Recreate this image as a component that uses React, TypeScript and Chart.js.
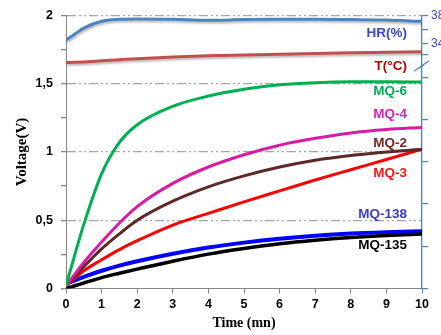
import React, { useEffect, useRef } from "react";
import { Chart, registerables } from "chart.js";

Chart.register(...registerables);

// time (mn)
const time = [0, 0.25, 0.5, 1, 1.5, 2, 3, 4, 5, 6, 7, 8, 9, 10];

// series values (V, left axis units)
const hr = [1.82, 1.865, 1.908, 1.958, 1.972, 1.975, 1.972, 1.965, 1.97, 1.972, 1.972, 1.97, 1.967, 1.957];
const temp = [1.655, 1.657, 1.66, 1.668, 1.676, 1.684, 1.696, 1.705, 1.711, 1.717, 1.722, 1.727, 1.731, 1.735];
const mq6 = [0.02, 0.25, 0.47, 0.84, 1.07, 1.2, 1.335, 1.41, 1.46, 1.492, 1.508, 1.514, 1.514, 1.512];
const mq4 = [0.02, 0.105, 0.19, 0.34, 0.48, 0.6, 0.77, 0.89, 0.98, 1.05, 1.1, 1.14, 1.165, 1.18];
const mq2 = [0.02, 0.09, 0.16, 0.29, 0.4, 0.5, 0.64, 0.745, 0.825, 0.89, 0.94, 0.975, 1.0, 1.02];
const mq3 = [0.02, 0.075, 0.13, 0.21, 0.285, 0.35, 0.465, 0.55, 0.635, 0.715, 0.795, 0.87, 0.945, 1.02];
const mq138 = [0.035, 0.06, 0.085, 0.13, 0.168, 0.2, 0.255, 0.3, 0.336, 0.365, 0.387, 0.403, 0.413, 0.42];
const mq135 = [0.0, 0.02, 0.04, 0.08, 0.112, 0.142, 0.2, 0.252, 0.293, 0.328, 0.354, 0.374, 0.389, 0.4];

// right (broken) axis ticks, expressed in left-axis units, and their labels
const rightTickValues = [0, 0.31, 0.62, 0.93, 1.24, 1.545, 1.713, 1.793, 1.895, 2.0];
const rightTickLabels = ["", "", "", "", "", "", "", "34", "", "38"];

// in-plot series names
const seriesNames = ["HR(%)", "T(°C)", "MQ-6", "MQ-4", "MQ-2", "MQ-3", "MQ-138", "MQ-135"];
const seriesNameColors = ["#3b47c4", "#c00000", "#00b050", "#e01fb2", "#7a1f1f", "#ff1010", "#3a3ad0", "#000000"];
const seriesNameY = [1.868, 1.625, 1.444, 1.278, 1.067, 0.842, 0.545, 0.318];

const toPts = (arr: number[]) => time.map((t, i) => ({ x: t, y: arr[i] }));

const SANS = "'Liberation Sans'";

export default function App() {
  const ref = useRef<HTMLCanvasElement | null>(null);

  useEffect(() => {
    if (!ref.current) return;

    const shadowPlugin = {
      id: "shadow",
      beforeDatasetDraw(chart: any, args: any) {
        if (args.index <= 1) {
          const ctx = chart.ctx;
          ctx.save();
          ctx.shadowColor = "rgba(0,0,0,0.25)";
          ctx.shadowBlur = 2;
          ctx.shadowOffsetY = 2;
          ctx.shadowOffsetX = 1;
        }
      },
      afterDatasetDraw(chart: any, args: any) {
        if (args.index <= 1) chart.ctx.restore();
      },
    };

    const labelPlugin = {
      id: "seriesLabels",
      afterDraw(chart: any) {
        const ctx = chart.ctx;
        const y = chart.scales.y;
        const area = chart.chartArea;
        ctx.save();
        ctx.font = "bold 13.5px " + SANS;
        ctx.textAlign = "right";
        ctx.textBaseline = "middle";
        seriesNames.forEach((n, i) => {
          ctx.fillStyle = seriesNameColors[i];
          ctx.fillText(n, area.right - 15, y.getPixelForValue(seriesNameY[i]));
        });
        // axis break marks on the right axis
        const y2 = chart.scales.y2;
        const by = y2.getPixelForValue(1.63);
        const bx = area.right;
        ctx.strokeStyle = "#4f81bd";
        ctx.lineWidth = 1.3;
        ctx.beginPath();
        ctx.moveTo(bx - 8, by + 5);
        ctx.lineTo(bx + 2, by - 1);
        ctx.moveTo(bx - 2, by + 1);
        ctx.lineTo(bx + 7, by - 5);
        ctx.stroke();
        ctx.restore();
      },
    };

    const mk = (label: string, arr: number[], color: string, width: number) => ({
      label,
      data: toPts(arr),
      borderColor: color,
      backgroundColor: color,
      borderWidth: width,
      pointRadius: 0,
      cubicInterpolationMode: "monotone" as const,
      fill: false,
      yAxisID: "y",
    });

    const chart = new Chart(ref.current, {
      type: "line",
      data: {
        datasets: [
          mk("HR(%)", hr, "#4f81bd", 3),
          mk("T(°C)", temp, "#c0504d", 3),
          mk("MQ-6", mq6, "#00b050", 3),
          mk("MQ-4", mq4, "#d81ca6", 3),
          mk("MQ-2", mq2, "#5e2828", 3),
          mk("MQ-3", mq3, "#ff0000", 3),
          mk("MQ-135", mq135, "#000000", 3.5),
          mk("MQ-138", mq138, "#0000ff", 4),
        ],
      },
      options: {
        animation: false,
        responsive: false,
        layout: { padding: { top: 13, left: 0, right: 0, bottom: 0 } },
        plugins: { legend: { display: false }, tooltip: { enabled: false } },
        scales: {
          x: {
            type: "linear",
            min: 0,
            max: 10,
            ticks: {
              stepSize: 1,
              color: "#000",
              font: { family: SANS, weight: "bold", size: 12.5 },
              padding: 4,
              maxRotation: 0,
            },
            grid: { drawOnChartArea: false, drawTicks: true, tickLength: 5, color: "#868686" },
            border: { color: "#868686", width: 1 },
            title: {
              display: true,
              text: "Time (mn)",
              color: "#000",
              font: { family: "Liberation Serif", weight: "bold", size: 14 },
              padding: { top: 0, bottom: 3 },
            },
            afterFit: (s: any) => {
              s.height = 46.5;
            },
          },
          y: {
            type: "linear",
            position: "left",
            min: 0,
            max: 2,
            ticks: {
              stepSize: 0.25,
              autoSkip: false,
              color: "#000",
              font: { family: SANS, weight: "bold", size: 12.5 },
              padding: 8,
              callback: (v: any) => {
                const n = Number(v);
                if (Math.abs(n * 2 - Math.round(n * 2)) > 1e-9) return "";
                return String(n).replace(".", ",");
              },
            },
            grid: {
              color: (c: any) => {
                const v = c.tick ? c.tick.value : 0;
                const major = Math.abs(v * 2 - Math.round(v * 2)) < 1e-9;
                return major && v > 0 ? "#a6a6a6" : "rgba(0,0,0,0)";
              },
              lineWidth: 1.3,
              tickColor: "#868686",
              tickLength: 5,
            },
            border: { color: "#868686", width: 1, dash: [9, 3, 2, 3, 2, 3] },
            title: {
              display: true,
              text: "Voltage(V)",
              color: "#000",
              font: { family: "Liberation Serif", weight: "bold", size: 15 },
              padding: { top: 13, bottom: 0 },
            },
            afterFit: (s: any) => {
              s.width = 66;
            },
          },
          y2: {
            type: "linear",
            position: "right",
            min: 0,
            max: 2,
            afterBuildTicks: (s: any) => {
              s.ticks = rightTickValues.map((v) => ({ value: v }));
            },
            ticks: {
              autoSkip: false,
              color: "#3b47c4",
              font: { family: SANS, size: 12 },
              padding: 3,
              callback: (_v: any, i: number) => rightTickLabels[i],
            },
            grid: { drawOnChartArea: false, drawTicks: true, tickLength: 6, color: "#4f81bd", lineWidth: 1.2 },
            border: { color: "#4f81bd", width: 1.3 },
            afterFit: (s: any) => {
              s.width = 19;
            },
          },
        },
      } as any,
      plugins: [shadowPlugin, labelPlugin],
    });

    return () => chart.destroy();
  }, []);

  return (
    <div style={{ position: "fixed", left: 0, top: 0, width: 441, height: 335, background: "#fff" }}>
      <canvas ref={ref} width={441} height={335} style={{ width: 441, height: 335, display: "block" }} />
    </div>
  );
}
